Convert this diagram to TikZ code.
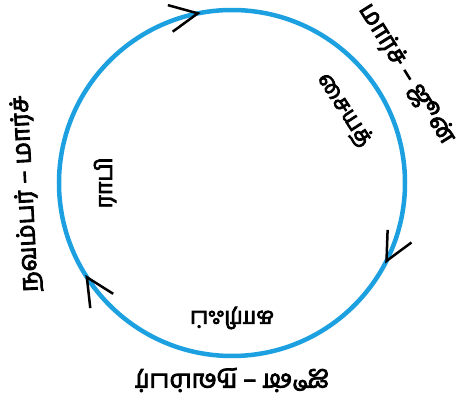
\documentclass[tikz,border=0pt]{standalone}
\usepackage{fontspec}
\newfontfamily\tamilfont[Script=Tamil, FakeBold=3.5]{Hind Madurai}
\usetikzlibrary{arrows.meta,decorations.markings}
\definecolor{cycleblue}{RGB}{28,160,224}

\begin{document}
\begin{tikzpicture}[
      month/.style={font=\tamilfont\fontsize{25}{28}\selectfont, inner sep=1pt},
      crop/.style={font=\tamilfont\fontsize{23}{26}\selectfont, inner sep=1pt},
      cycle/.style={draw=cycleblue, line width=4.5pt,
        postaction={decorate},
        decoration={markings,
          mark=at position 0.077 with {\arrow{Straight Barb[length=28pt, width=27pt, line width=2.5pt, color=black]}},
          mark=at position 0.411 with {\arrow{Straight Barb[length=28pt, width=27pt, line width=2.5pt, color=black]}},
          mark=at position 0.721 with {\arrow{Straight Barb[length=28pt, width=27pt, line width=2.5pt, color=black]}}}}
  ]
  \useasboundingbox (-232pt,-232pt) rectangle (231pt,183pt);

  % Circle
  \draw[cycle] (0:173pt) arc[start angle=0, end angle=-360, radius=173pt];

  % Nodes
  \node[month, rotate=-58] (zaidmonths) at (32:206pt) {மார்ச் – ஜூன்};
  \node[crop, rotate=-57] (zaid) at (33:134pt) {சையத்};
  \node[month, rotate=180] (kharifmonths) at (-90:197pt) {ஜூன் – நவம்பர்};
  \node[crop, rotate=180] (kharif) at (-90:135pt) {காரிஃப்};
  \node[month, rotate=93] (rabimonths) at (183:206pt) {நவம்பர் – மார்ச்};
  \node[crop, rotate=90] (rabi) at (180:127pt) {ராபி};

\end{tikzpicture}
\end{document}
